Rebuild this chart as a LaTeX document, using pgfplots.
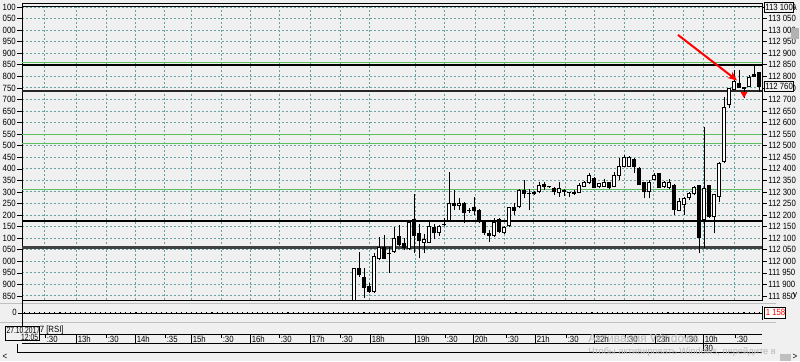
\documentclass[border=0pt]{standalone}
\usepackage{fontspec}
\setmainfont{Liberation Sans}
\newfontfamily\ch[FakeStretch=0.86]{Liberation Sans}
\newfontfamily\chn[FakeStretch=0.74]{Liberation Sans}
\usepackage{pgfplots}
\pgfplotsset{compat=1.18}
\usepackage{pgfplotstable}
\usetikzlibrary{arrows.meta}

\definecolor{bg}{RGB}{240,240,240}
\definecolor{gridc}{RGB}{105,160,160}
\definecolor{lvlgreen}{RGB}{95,190,95}
\definecolor{wm}{RGB}{185,185,185}

\pgfplotstableread{
i O H L C
0 111830 111970 111830 111970
1 111972 112041 111933 111941
2 111933 111971 111843 111883
3 111893 111905 111862 111868
4 111868 112035 111864 112023
5 112009 112106 112006 112060
6 112060 112114 112008 112010
7 112030 112063 111951 112031
8 112041 112147 112037 112102
9 112109 112157 112066 112070
10 112080 112100 112049 112059
11 112052 112179 112049 112171
12 112182 112290 112034 112109
13 112121 112160 112013 112089
14 112080 112117 112034 112095
15 112080 112174 112078 112153
16 112147 112161 112095 112121
17 112121 112157 112109 112153
18 112158 112186 112153 112160
19 112174 112387 112171 112253
20 112253 112308 112222 112239
21 112239 112272 112222 112253
22 112253 112255 112165 112210
23 112218 112229 112208 112217
24 112233 112280 112200 112219
25 112222 112225 112167 112171
26 112171 112172 112114 112121
27 112121 112135 112085 112109
28 112109 112186 112104 112171
29 112182 112186 112124 112128
30 112121 112152 112119 112150
31 112153 112236 112150 112233
32 112233 112251 112200 112219
33 112233 112311 112229 112308
34 112308 112352 112272 112290
35 112290 112311 112222 112291
36 112290 112305 112288 112301
37 112298 112344 112294 112330
38 112333 112344 112308 112323
39 112320 112323 112316 112321
40 112318 112323 112287 112298
41 112294 112344 112277 112316
42 112308 112311 112282 112301
43 112296 112301 112277 112297
44 112291 112308 112287 112301
45 112297 112337 112294 112330
46 112323 112346 112322 112344
47 112337 112383 112334 112373
48 112362 112366 112316 112318
49 112320 112340 112318 112337
50 112323 112355 112320 112344
51 112341 112344 112312 112316
52 112323 112387 112320 112375
53 112370 112445 112350 112412
54 112409 112460 112409 112452
55 112409 112455 112409 112450
56 112441 112447 112383 112406
57 112405 112408 112328 112330
58 112342 112344 112275 112298
59 112298 112352 112272 112342
60 112352 112381 112350 112373
61 112381 112383 112316 112318
62 112320 112346 112318 112343
63 112316 112355 112314 112344
64 112330 112333 112200 112222
65 112219 112272 112217 112261
66 112243 112280 112200 112272
67 112272 112301 112265 112294
68 112290 112326 112287 112320
69 112330 112330 112035 112100
70 112179 112581 112058 112318
71 112330 112330 112186 112193
72 112190 112291 112121 112291
73 112280 112431 112258 112424
74 112431 112712 112425 112669
75 112676 112750 112663 112748
76 112741 112827 112741 112780
77 112770 112827 112750 112751
78 112745 112755 112705 112755
79 112755 112806 112755 112799
80 112799 112849 112799 112810
81 112820 112820 112734 112755
}\candles

\pgfplotsset{
  common/.style={
    at={(16.5pt,-2.25pt)}, anchor=north west,
    scale only axis, width=555pt, height=222.75pt,
    xmin=-66.4, xmax=81.6, ymin=111832.5, ymax=113117,
    ytick={111850,111900,...,113100},
    scaled y ticks=false, scaled x ticks=false,
    tick align=outside,
    major tick length=3.5pt, minor tick length=1.8pt,
    yticklabel style={font=\ch\fontsize{6.8}{7}\selectfont, inner sep=1pt},
  },
  candle/.style 2 args={draw=none, mark=none, forget plot,
    error bars/.cd, y dir=plus, y explicit, error mark=none,
    error bar style={draw=#1, solid, line width=#2}},
}

\begin{document}
\begin{tikzpicture}
\begin{scope}[x=0.75pt,y=-0.75pt]
\fill[bg] (0,0) rectangle (800,361);
\end{scope}

\begin{axis}[common,
  axis background/.style={fill=bg},
  axis line style={black, line width=0.6pt},
  xtick={-62,-55.6,-49.6,-43.8,-38,-32.6,-26.6,-20.8,-15,-8.8,-2.8,3,12.2,18,24.2,30,35.8,42.2,48,54,59.8,65.8,69.8,76},
  xticklabels={}, xtick style={draw=none},
  xmajorgrids, ymajorgrids,
  major grid style={gridc, line width=0.7pt, dash pattern=on 1.5pt off 1.5pt},
  ytick pos=left, minor y tick num=4,
  y tick style={black, line width=0.45pt},
  yticklabels={850,900,950,000,050,100,150,200,250,300,350,400,450,500,550,600,650,700,750,800,850,900,950,000,050,100},
]
% level lines
\addplot[black, line width=0.8pt, forget plot] coordinates {(-66.4,113100) (81.6,113100)};
\addplot[lvlgreen, line width=0.7pt, forget plot] coordinates {(-66.4,112861) (81.6,112861)};
\addplot[black, line width=1.1pt, forget plot] coordinates {(-66.4,112848) (81.6,112848)};
\addplot[black!85, line width=1.5pt, forget plot] coordinates {(-66.4,112738) (81.6,112738)};
\addplot[lvlgreen, line width=0.7pt, forget plot] coordinates {(-66.4,112549) (81.6,112549)};
\addplot[lvlgreen, line width=0.7pt, forget plot] coordinates {(-66.4,112510) (81.6,112510)};
\addplot[lvlgreen, line width=0.7pt, forget plot] coordinates {(-66.4,112310) (81.6,112310)};
\addplot[black, line width=1.1pt, forget plot] coordinates {(-66.4,112174) (81.6,112174)};
\addplot[black!75, line width=2pt, forget plot] coordinates {(-66.4,112059) (81.6,112059)};

% wicks
\addplot[candle={black}{0.75pt}]
  table[x=i, y=L, y error plus expr={\thisrow{H}-\thisrow{L}}] {\candles};
% bodies (outline)
\addplot[candle={black}{3pt}]
  table[x=i, y expr={min(\thisrow{O},\thisrow{C})},
        y error plus expr={max(abs(\thisrow{C}-\thisrow{O}),4.3)}] {\candles};
% hollow bodies
\addplot[restrict expr to domain={\thisrow{C}-\thisrow{O}}{12:100000}, candle={white}{1.5pt}]
  table[x=i, y expr={\thisrow{O}+4.3},
        y error plus expr={\thisrow{C}-\thisrow{O}-8.6}] {\candles};

% annotation arrow and marker
\draw[red, line width=1.5pt, -{Stealth[length=7pt,width=6pt]}] (axis cs:64.8,112979) -- (axis cs:76.6,112782);
\addplot[only marks, mark=triangle*, mark size=2.6pt, mark options={rotate=180, fill=red, draw=red}, forget plot] coordinates {(78,112724)};
\end{axis}

\begin{axis}[common,
  hide x axis,
  axis y line*=right,
  axis line style={black, line width=0.6pt},
  y tick style={black, line width=0.45pt},
  yticklabels={111 850,111 900,111 950,112 000,112 050,112 100,112 150,112 200,112 250,112 300,112 350,112 400,112 450,112 500,112 550,112 600,112 650,112 700,112 750,112 800,112 850,112 900,112 950,113 000,113 050,113 100},
]
\end{axis}

\begin{scope}[x=0.75pt,y=-0.75pt, every node/.style={font=\ch\fontsize{6.8}{7}\selectfont, inner sep=0pt}]
% right boxes
\draw[black, line width=0.5pt, fill=bg] (764,2) rectangle (793,12);
\node[anchor=west] at (765,7) {113 100};
\draw[black, line width=0.5pt, fill=bg] (764,81) rectangle (793,91);
\node[anchor=west] at (765,86) {112 760};

% indicator panel
\draw[black!25, line width=0.6pt] (0,303) -- (776,303);
\draw[black!25, line width=0.6pt] (0,322) -- (776,322);
\draw[black, line width=0.6pt] (22,300) -- (22,334);
\draw[black, line width=0.4pt] (22,313.5) -- (762,313.5);
\draw[black, line width=0.9pt, dash pattern=on 0.8pt off 3pt] (24,312.3) -- (762,312.3);
\draw[black, line width=0.45pt] (18,313) -- (22,313);
\node[anchor=east] at (17,312.5) {0};
\draw[black, line width=0.6pt] (762,306) -- (762,320);
\draw[black, line width=0.5pt, fill=white] (764,307) rectangle (785,318);
\node[anchor=west, text=red] at (765.5,312.5) {1 158};

% time axis
\draw[black, line width=0.5pt] (39,334.5) -- (762,334.5);
\draw[black, line width=0.5pt] (22,343.5) -- (762,343.5);
\draw[black, line width=0.5pt] (17,343.5) -- (17,352) -- (762,352);
\foreach \x/\t in {76/13h,135/14h,191/15h,250/16h,310/17h,370/18h,415/19h,473/20h,535/21h,594/22h,655/23h,703/10h}{
  \draw[black, line width=0.5pt] (\x,334.5) -- (\x,343.5);
  \node[anchor=west] at (\x+1.5,339.3) {\t};
}
\foreach \x/\t in {45/{:30},106/{:30},165/{:35},221/{:30},279/{:30},340/{:30},445/{:30},506/{:30},566/{:30},625/{:30},685/{:30},735/{:30}}{
  \draw[black, line width=0.5pt] (\x,334.5) -- (\x,337.5);
  \node[anchor=west] at (\x+1.5,339.3) {\t};
}
\draw[black, line width=0.5pt] (703,343.5) -- (703,351);
\node[anchor=west] at (704,348) {30};

% date box
\node[anchor=west] at (39.5,330) {7 [RSI]};
\draw[black, line width=0.5pt, fill=bg] (5.5,326.5) rectangle (39,340.5);
\node[anchor=west, font=\chn\fontsize{6.8}{7}\selectfont] at (6.3,330.3) {27.10.2017};
\node[anchor=east, font=\chn\fontsize{6.8}{7}\selectfont] at (38.3,337.4) {12:05};

% scroll bars
\node[font=\ch\fontsize{7}{7}\selectfont] at (795,10) {\^{}};
\fill[black!30] (791,28) rectangle (799,39);
\node[font=\ch\fontsize{7}{7}\selectfont] at (795,295) {v};
\node[font=\ch\fontsize{7}{7}\selectfont] at (5,357) {<};
\node[font=\ch\fontsize{7}{7}\selectfont] at (795,357) {>};
\fill[black!25] (780,354) rectangle (791,361);

% watermark
\node[anchor=west, text=wm, font=\fontsize{9}{9}\selectfont] at (588,339) {Активация Windows};
\node[anchor=west, text=wm, font=\fontsize{7}{7}\selectfont] at (588,352) {Чтобы активировать Windows, перейдите в};

\pgfresetboundingbox
\path[use as bounding box] (0,0) rectangle (800,361);
\end{scope}
\end{tikzpicture}
\end{document}
